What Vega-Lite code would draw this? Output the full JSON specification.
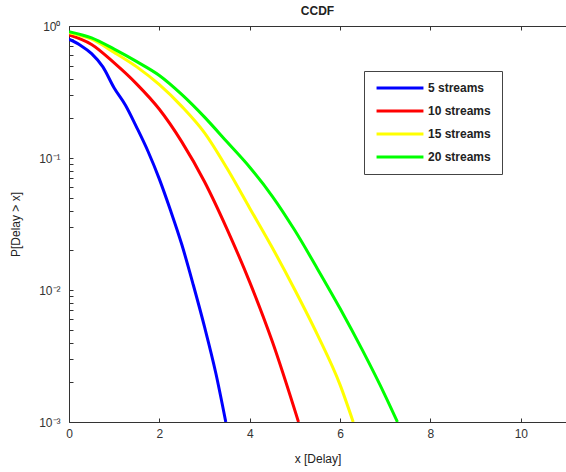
{
  "$schema": "https://vega.github.io/schema/vega-lite/v6.json",
  "width": 497,
  "height": 396,
  "autosize": {"type": "none"},
  "padding": {"left": 69, "top": 26, "right": 0, "bottom": 50},
  "background": "white",
  "title": {"text": "CCDF", "fontSize": 12, "fontWeight": "bold", "font": "Liberation Sans", "color": "#222", "offset": 2},
  "config": {"view": {"stroke": "#c8c8c8"}, "font": "Liberation Sans"},
  "data": {"values": [
    {"series": "5 streams", "x": 0, "p": 0.794},
    {"series": "5 streams", "x": 0.25, "p": 0.716},
    {"series": "5 streams", "x": 0.5, "p": 0.617},
    {"series": "5 streams", "x": 0.75, "p": 0.490},
    {"series": "5 streams", "x": 1.0, "p": 0.339},
    {"series": "5 streams", "x": 1.25, "p": 0.251},
    {"series": "5 streams", "x": 1.5, "p": 0.170},
    {"series": "5 streams", "x": 1.75, "p": 0.112},
    {"series": "5 streams", "x": 2.0, "p": 0.0692},
    {"series": "5 streams", "x": 2.25, "p": 0.0398},
    {"series": "5 streams", "x": 2.5, "p": 0.0219},
    {"series": "5 streams", "x": 2.75, "p": 0.01096},
    {"series": "5 streams", "x": 3.0, "p": 0.00525},
    {"series": "5 streams", "x": 3.25, "p": 0.00234},
    {"series": "5 streams", "x": 3.47, "p": 0.001},
    {"series": "10 streams", "x": 0, "p": 0.855},
    {"series": "10 streams", "x": 0.5, "p": 0.724},
    {"series": "10 streams", "x": 1.0, "p": 0.525},
    {"series": "10 streams", "x": 1.5, "p": 0.363},
    {"series": "10 streams", "x": 2.0, "p": 0.234},
    {"series": "10 streams", "x": 2.5, "p": 0.132},
    {"series": "10 streams", "x": 3.0, "p": 0.0661},
    {"series": "10 streams", "x": 3.5, "p": 0.0288},
    {"series": "10 streams", "x": 4.0, "p": 0.01148},
    {"series": "10 streams", "x": 4.5, "p": 0.00407},
    {"series": "10 streams", "x": 5.08, "p": 0.001},
    {"series": "15 streams", "x": 0, "p": 0.891},
    {"series": "15 streams", "x": 0.5, "p": 0.794},
    {"series": "15 streams", "x": 1.0, "p": 0.631},
    {"series": "15 streams", "x": 1.5, "p": 0.490},
    {"series": "15 streams", "x": 2.0, "p": 0.359},
    {"series": "15 streams", "x": 2.5, "p": 0.245},
    {"series": "15 streams", "x": 3.0, "p": 0.155},
    {"series": "15 streams", "x": 3.5, "p": 0.0832},
    {"series": "15 streams", "x": 4.0, "p": 0.0417},
    {"series": "15 streams", "x": 4.5, "p": 0.0209},
    {"series": "15 streams", "x": 5.0, "p": 0.01},
    {"series": "15 streams", "x": 5.5, "p": 0.00457},
    {"series": "15 streams", "x": 6.0, "p": 0.00191},
    {"series": "15 streams", "x": 6.29, "p": 0.001},
    {"series": "20 streams", "x": 0, "p": 0.906},
    {"series": "20 streams", "x": 0.5, "p": 0.813},
    {"series": "20 streams", "x": 1.0, "p": 0.668},
    {"series": "20 streams", "x": 1.5, "p": 0.537},
    {"series": "20 streams", "x": 2.0, "p": 0.422},
    {"series": "20 streams", "x": 2.5, "p": 0.302},
    {"series": "20 streams", "x": 3.0, "p": 0.204},
    {"series": "20 streams", "x": 3.5, "p": 0.132},
    {"series": "20 streams", "x": 4.0, "p": 0.0851},
    {"series": "20 streams", "x": 4.5, "p": 0.0513},
    {"series": "20 streams", "x": 5.0, "p": 0.0282},
    {"series": "20 streams", "x": 5.5, "p": 0.01445},
    {"series": "20 streams", "x": 6.0, "p": 0.00724},
    {"series": "20 streams", "x": 6.5, "p": 0.00347},
    {"series": "20 streams", "x": 7.0, "p": 0.00158},
    {"series": "20 streams", "x": 7.27, "p": 0.001}
  ]},
  "layer": [
    {
      "mark": {"type": "line", "strokeWidth": 3, "interpolate": "monotone", "clip": true},
      "encoding": {
        "x": {"field": "x", "type": "quantitative",
          "scale": {"domain": [0, 11], "nice": false, "zero": false},
          "axis": {"orient": "bottom", "values": [0, 2, 4, 6, 8, 10], "grid": false, "tickSize": -4, "labelPadding": 10, "labelFlush": false,
            "domainColor": "#333", "tickColor": "#333", "labelColor": "#333", "labelFontSize": 12, "labelFont": "Liberation Sans",
            "title": "x [Delay]", "titleFontSize": 12, "titleFontWeight": "normal", "titleColor": "#222", "titlePadding": 14}},
        "y": {"field": "p", "type": "quantitative",
          "scale": {"type": "log", "domain": [0.001, 1], "nice": false},
          "axis": {"orient": "left",
            "values": [0.001, 0.002, 0.003, 0.004, 0.005, 0.006, 0.007, 0.008, 0.009, 0.01, 0.02, 0.03, 0.04, 0.05, 0.06, 0.07, 0.08, 0.09, 0.1, 0.2, 0.3, 0.4, 0.5, 0.6, 0.7, 0.8, 0.9, 1],
            "labelExpr": "datum.value == 1 ? '10⁰' : datum.value == 0.1 ? '10⁻¹' : datum.value == 0.01 ? '10⁻²' : datum.value == 0.001 ? '10⁻³' : ''",
            "grid": false, "tickSize": -4, "labelPadding": 13, "labelFlush": false, "labelOverlap": false,
            "domainColor": "#333", "tickColor": "#333", "labelColor": "#333", "labelFontSize": 12,
            "title": "P[Delay > x]", "titleFontSize": 12, "titleFontWeight": "normal", "titleColor": "#222", "titlePadding": 16}},
        "color": {"field": "series", "type": "nominal",
          "scale": {"domain": ["5 streams", "10 streams", "15 streams", "20 streams"], "range": ["#0000ff", "#ff0000", "#ffff00", "#00ff00"]},
          "legend": {"orient": "none", "legendX": 295, "legendY": 45, "title": null, "strokeColor": "#444", "fillColor": "white",
            "padding": 11, "symbolType": "stroke", "symbolStrokeWidth": 3, "symbolSize": 2200, "clipHeight": 12, "rowPadding": 11,
            "labelFontSize": 12, "labelFontWeight": "bold", "labelColor": "#222", "labelOffset": 3,
            "labelExpr": "datum.label + '\u2002\u2002\u2002'"}}
      }
    },
    {
      "mark": {"type": "rule", "opacity": 0},
      "encoding": {
        "x": {"field": "x", "type": "quantitative",
          "axis": {"orient": "top", "values": [0, 2, 4, 6, 8, 10], "grid": false, "tickSize": -4, "labels": false, "title": null,
            "domainColor": "#333", "tickColor": "#333"}}
      }
    }
  ],
  "resolve": {"axis": {"x": "independent"}}
}
